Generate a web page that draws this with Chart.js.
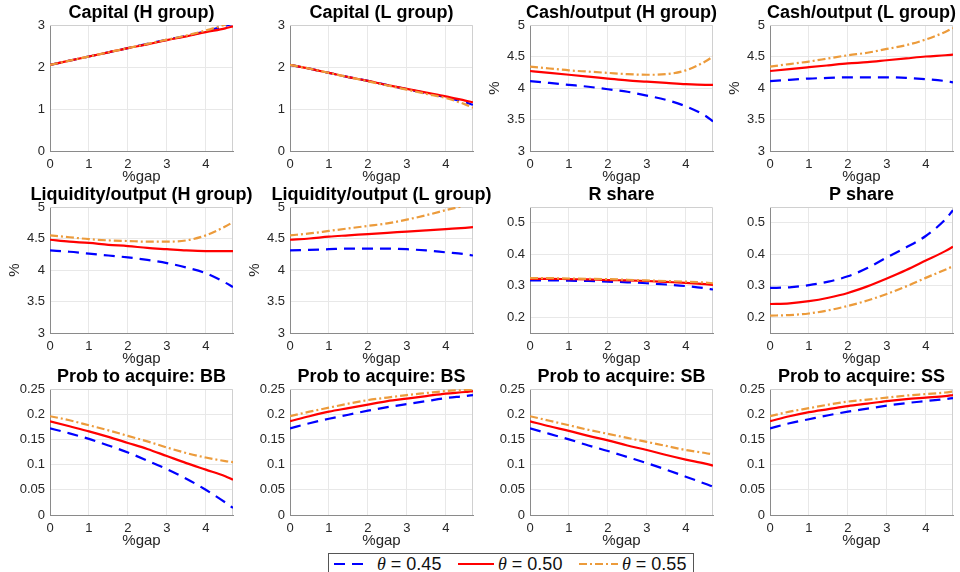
<!DOCTYPE html>
<html>
<head>
<meta charset="utf-8">
<script src="https://cdn.jsdelivr.net/npm/chart.js@4"></script>
<style>
  html, body { margin: 0; padding: 0; background: #fff; }
  body { width: 960px; height: 572px; position: relative; overflow: hidden; font-family: "Liberation Sans", Arial, sans-serif; }
  .panel { position: absolute; }
  #legend {
    position: absolute; left: 328px; top: 553px; width: 366px; height: 28px;
    border: 1px solid #555; box-sizing: border-box; background: #fff;
  }
  #legend .item { position: absolute; top: 0; height: 20px; line-height: 20px; font-size: 18px; color: #111; white-space: nowrap; }
  #legend svg { position: absolute; top: 0; }
  #legend i { font-family: "Liberation Serif", serif; font-style: italic; }
</style>
</head>
<body>
<div id="legend"></div>
<script>
// shared x grid (%gap) and tick labels
const gap = [0, 0.5, 1, 1.5, 2, 2.5, 3, 3.5, 4, 4.5, 4.7];
const gapTicks = [0, 1, 2, 3, 4];
const thetaLabels = ['0.45', '0.50', '0.55'];

// Capital
const capH_45 = [2.05, 2.15, 2.25, 2.35, 2.45, 2.55, 2.65, 2.74, 2.85, 2.98, 3.03];
const capH_50 = [2.05, 2.15, 2.25, 2.35, 2.45, 2.54, 2.64, 2.73, 2.83, 2.92, 2.97];
const capH_55 = [2.05, 2.15, 2.25, 2.35, 2.45, 2.55, 2.65, 2.75, 2.87, 3.01, 3.07];
const capL_45 = [2.05, 1.96, 1.86, 1.76, 1.67, 1.57, 1.47, 1.38, 1.28, 1.16, 1.10];
const capL_50 = [2.05, 1.96, 1.86, 1.76, 1.67, 1.57, 1.48, 1.39, 1.30, 1.20, 1.16];
const capL_55 = [2.05, 1.96, 1.86, 1.76, 1.66, 1.56, 1.46, 1.36, 1.26, 1.11, 1.03];

// Cash/output
const cashH_45 = [4.11, 4.08, 4.05, 4.02, 3.98, 3.94, 3.88, 3.81, 3.71, 3.56, 3.47];
const cashH_50 = [4.27, 4.24, 4.21, 4.18, 4.15, 4.12, 4.10, 4.08, 4.06, 4.05, 4.05];
const cashH_55 = [4.34, 4.31, 4.28, 4.26, 4.24, 4.22, 4.21, 4.22, 4.28, 4.42, 4.50];
const cashL_45 = [4.11, 4.13, 4.15, 4.16, 4.17, 4.17, 4.17, 4.16, 4.14, 4.11, 4.09];
const cashL_50 = [4.27, 4.30, 4.33, 4.36, 4.39, 4.41, 4.44, 4.47, 4.50, 4.52, 4.53];
const cashL_55 = [4.34, 4.38, 4.42, 4.47, 4.52, 4.56, 4.62, 4.68, 4.77, 4.89, 4.95];

// Liquidity/output
const liqH_45 = [4.31, 4.29, 4.26, 4.23, 4.20, 4.16, 4.11, 4.04, 3.95, 3.80, 3.73];
const liqH_50 = [4.48, 4.45, 4.43, 4.40, 4.38, 4.35, 4.33, 4.31, 4.30, 4.30, 4.30];
const liqH_55 = [4.55, 4.52, 4.49, 4.47, 4.46, 4.45, 4.45, 4.47, 4.55, 4.69, 4.76];
const liqL_45 = [4.31, 4.32, 4.33, 4.34, 4.34, 4.34, 4.33, 4.31, 4.28, 4.25, 4.23];
const liqL_50 = [4.48, 4.50, 4.53, 4.55, 4.57, 4.59, 4.61, 4.63, 4.65, 4.67, 4.68];
const liqL_55 = [4.55, 4.58, 4.62, 4.66, 4.70, 4.74, 4.80, 4.87, 4.95, 5.03, 5.08];

// shares
const rShare_45 = [0.317, 0.317, 0.316, 0.315, 0.313, 0.311, 0.308, 0.304, 0.299, 0.292, 0.288];
const rShare_50 = [0.322, 0.322, 0.321, 0.320, 0.318, 0.317, 0.315, 0.312, 0.309, 0.305, 0.303];
const rShare_55 = [0.324, 0.324, 0.323, 0.322, 0.321, 0.319, 0.317, 0.315, 0.313, 0.310, 0.308];
const pShare_45 = [0.293, 0.295, 0.302, 0.313, 0.330, 0.356, 0.390, 0.422, 0.458, 0.510, 0.540];
const pShare_50 = [0.242, 0.244, 0.251, 0.262, 0.277, 0.298, 0.323, 0.350, 0.380, 0.410, 0.424];
const pShare_55 = [0.205, 0.207, 0.212, 0.222, 0.236, 0.253, 0.274, 0.298, 0.325, 0.351, 0.362];

// probability to acquire
const probBB_45 = [0.172, 0.162, 0.151, 0.138, 0.124, 0.108, 0.091, 0.072, 0.050, 0.025, 0.014];
const probBB_50 = [0.186, 0.176, 0.166, 0.155, 0.143, 0.131, 0.117, 0.103, 0.090, 0.077, 0.070];
const probBB_55 = [0.196, 0.188, 0.178, 0.168, 0.157, 0.146, 0.134, 0.123, 0.114, 0.107, 0.105];
const probBS_45 = [0.172, 0.182, 0.191, 0.199, 0.207, 0.214, 0.220, 0.226, 0.232, 0.236, 0.238];
const probBS_50 = [0.186, 0.196, 0.205, 0.212, 0.219, 0.226, 0.231, 0.236, 0.241, 0.244, 0.246];
const probBS_55 = [0.196, 0.205, 0.213, 0.221, 0.228, 0.233, 0.238, 0.242, 0.246, 0.248, 0.249];
const probSB_45 = [0.172, 0.161, 0.150, 0.138, 0.127, 0.115, 0.103, 0.090, 0.076, 0.062, 0.056];
const probSB_50 = [0.186, 0.176, 0.167, 0.157, 0.148, 0.138, 0.129, 0.119, 0.110, 0.102, 0.098];
const probSB_55 = [0.196, 0.187, 0.178, 0.169, 0.161, 0.153, 0.145, 0.137, 0.129, 0.123, 0.120];
const probSS_45 = [0.172, 0.182, 0.190, 0.198, 0.205, 0.211, 0.217, 0.222, 0.226, 0.230, 0.232];
const probSS_50 = [0.186, 0.196, 0.204, 0.210, 0.216, 0.221, 0.226, 0.230, 0.233, 0.236, 0.238];
const probSS_55 = [0.196, 0.205, 0.212, 0.219, 0.225, 0.229, 0.233, 0.237, 0.240, 0.243, 0.245];

// y ticks
const capTicks = [0, 1, 2, 3];
const ratioTicks = [3, 3.5, 4, 4.5, 5];
const shareTicks = [0.2, 0.3, 0.4, 0.5];
const probTicks = [0, 0.05, 0.1, 0.15, 0.2, 0.25];

const panels = [
  { title: 'Capital (H group)', series: [capH_45, capH_50, capH_55], ticks: capTicks, min: 0, max: 3 },
  { title: 'Capital (L group)', series: [capL_45, capL_50, capL_55], ticks: capTicks, min: 0, max: 3 },
  { title: 'Cash/output (H group)', series: [cashH_45, cashH_50, cashH_55], ticks: ratioTicks, min: 3, max: 5, yLabel: '%' },
  { title: 'Cash/output (L group)', series: [cashL_45, cashL_50, cashL_55], ticks: ratioTicks, min: 3, max: 5, yLabel: '%' },
  { title: 'Liquidity/output (H group)', series: [liqH_45, liqH_50, liqH_55], ticks: ratioTicks, min: 3, max: 5, yLabel: '%' },
  { title: 'Liquidity/output (L group)', series: [liqL_45, liqL_50, liqL_55], ticks: ratioTicks, min: 3, max: 5, yLabel: '%' },
  { title: 'R share', series: [rShare_45, rShare_50, rShare_55], ticks: shareTicks, min: 0.15, max: 0.55 },
  { title: 'P share', series: [pShare_45, pShare_50, pShare_55], ticks: shareTicks, min: 0.15, max: 0.55 },
  { title: 'Prob to acquire: BB', series: [probBB_45, probBB_50, probBB_55], ticks: probTicks, min: 0, max: 0.25 },
  { title: 'Prob to acquire: BS', series: [probBS_45, probBS_50, probBS_55], ticks: probTicks, min: 0, max: 0.25 },
  { title: 'Prob to acquire: SB', series: [probSB_45, probSB_50, probSB_55], ticks: probTicks, min: 0, max: 0.25 },
  { title: 'Prob to acquire: SS', series: [probSS_45, probSS_50, probSS_55], ticks: probTicks, min: 0, max: 0.25 },
];

const colors = ['#0000ff', '#ff0000', '#ec9b3b'];
const dashes = [[11, 7], [], [8, 3, 2, 3]];
const FONT = '"Liberation Sans", Arial, sans-serif';

// layout of the grid (plot area corners)
const colLeft = [50, 290, 530, 770];
const rowTop = [25, 207, 389];
const plotW = 183, plotH = 126;
const padL = 50, padT = 25, padR = 30, padB = 45;

const panelText = {
  id: 'panelText',
  beforeDatasetsDraw(chart) {
    const { ctx, chartArea: a } = chart;
    ctx.save();
    ctx.strokeStyle = '#d0d0d0';
    ctx.lineWidth = 1;
    ctx.beginPath();
    ctx.moveTo(a.left, a.top + 0.5);
    ctx.lineTo(a.right - 0.5, a.top + 0.5);
    ctx.lineTo(a.right - 0.5, a.bottom);
    ctx.stroke();
    ctx.restore();
  },
  afterDraw(chart, args, opts) {
    const { ctx, chartArea: a } = chart;
    const cx = (a.left + a.right) / 2;
    ctx.save();
    ctx.textAlign = 'center';
    ctx.textBaseline = 'middle';
    ctx.fillStyle = '#000';
    ctx.font = 'bold 18px ' + FONT;
    ctx.fillText(opts.title, cx, a.top - 12);
    ctx.fillStyle = '#262626';
    ctx.font = '15px ' + FONT;
    ctx.fillText('%gap', cx, a.bottom + 26);
    if (opts.yLabel) {
      ctx.translate(a.left - 35, (a.top + a.bottom) / 2);
      ctx.rotate(-Math.PI / 2);
      ctx.fillText(opts.yLabel, 0, 0);
    }
    ctx.restore();
  }
};

const fmt = v => String(Math.round(v * 1000) / 1000);

panels.forEach((p, k) => {
  const r = Math.floor(k / 4), c = k % 4;
  const cv = document.createElement('canvas');
  cv.className = 'panel';
  cv.width = padL + plotW + padR;
  cv.height = padT + plotH + padB;
  cv.style.left = (colLeft[c] - padL) + 'px';
  cv.style.top = (rowTop[r] - padT) + 'px';
  document.body.appendChild(cv);

  new Chart(cv, {
    type: 'line',
    data: {
      datasets: p.series.map((s, i) => ({
        label: 'θ = ' + thetaLabels[i],
        data: gap.map((x, j) => ({ x: x, y: s[j] })),
        borderColor: colors[i],
        borderWidth: 2.2,
        borderDash: dashes[i],
        pointRadius: 0,
        cubicInterpolationMode: 'monotone',
        fill: false,
        order: 3 - i
      }))
    },
    options: {
      responsive: false,
      animation: false,
      devicePixelRatio: 1,
      layout: { padding: { top: padT, right: padR, left: 0, bottom: 0 } },
      plugins: {
        legend: { display: false },
        tooltip: { enabled: false },
        panelText: { title: p.title, yLabel: p.yLabel }
      },
      scales: {
        x: {
          type: 'linear', min: 0, max: 4.7,
          afterBuildTicks: s => { s.ticks = gapTicks.map(v => ({ value: v })); },
          afterFit: s => { s.height = padB; },
          grid: { color: '#e8e8e8', drawTicks: false },
          border: { color: '#8a8a8a' },
          ticks: { padding: 6, color: '#262626', font: { family: FONT, size: 13 }, maxRotation: 0, autoSkip: false, callback: fmt }
        },
        y: {
          type: 'linear', min: p.min, max: p.max,
          afterBuildTicks: s => { s.ticks = p.ticks.map(v => ({ value: v })); },
          afterFit: s => { s.width = padL; },
          grid: { color: '#e8e8e8', drawTicks: false },
          border: { color: '#8a8a8a' },
          ticks: { padding: 5, color: '#262626', font: { family: FONT, size: 13 }, autoSkip: false, callback: fmt }
        }
      }
    },
    plugins: [panelText]
  });
});

// legend (shared by all panels)
const legend = document.getElementById('legend');
const legendPos = [[4, 48], [128, 169], [249, 293]];
legendPos.forEach(([lx, tx], i) => {
  const svg = document.createElementNS('http://www.w3.org/2000/svg', 'svg');
  svg.setAttribute('width', '40');
  svg.setAttribute('height', '20');
  svg.style.left = lx + 'px';
  const ln = document.createElementNS('http://www.w3.org/2000/svg', 'line');
  ln.setAttribute('x1', '1'); ln.setAttribute('x2', i === 2 ? '40' : '37');
  ln.setAttribute('y1', '10'); ln.setAttribute('y2', '10');
  ln.setAttribute('stroke', colors[i]);
  ln.setAttribute('stroke-width', '2.2');
  if (dashes[i].length) ln.setAttribute('stroke-dasharray', dashes[i].join(' '));
  svg.appendChild(ln);
  legend.appendChild(svg);
  const t = document.createElement('div');
  t.className = 'item';
  t.style.left = tx + 'px';
  t.innerHTML = '<i>θ</i> = ' + thetaLabels[i];
  legend.appendChild(t);
});
</script>
</body>
</html>
